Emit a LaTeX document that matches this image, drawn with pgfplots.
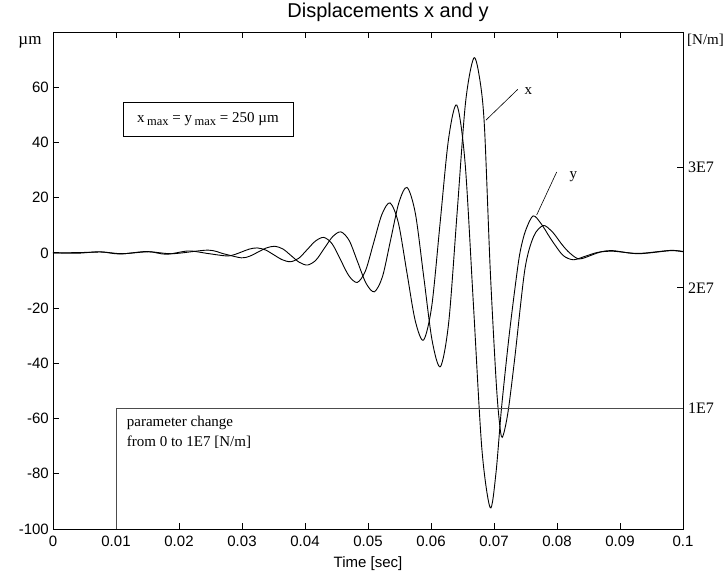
\documentclass[border=0pt]{standalone}
\usepackage{fontspec}
\setmainfont{Liberation Serif}
\setsansfont{Liberation Sans}
\usepackage{pgfplots}
\pgfplotsset{compat=1.18}
\usetikzlibrary{calc}

\newcommand\sanslab{\fontsize{15}{16}\selectfont\sffamily}
\newcommand\serlab{\fontsize{15}{20}\selectfont\rmfamily}
\newcommand\sub[1]{\hspace{2.5pt}\raisebox{-0.45ex}{\fontsize{12.5}{12.5}\selectfont #1}}

\pgfplotsset{
  frame/.style={
    scale only axis, width=630pt, height=497pt,
    xmin=0, xmax=0.1,
    tick align=inside, major tick length=6pt,
    axis line style={line width=0.8pt},
    every tick/.style={black, line width=0.8pt},
  },
  curve/.style={black, line width=0.9pt, smooth, mark=none},
}

\begin{document}
\begin{tikzpicture}
\begin{axis}[frame, name=main,
  ymin=-100, ymax=80,
  xtick={0,0.01,0.02,0.03,0.04,0.05,0.06,0.07,0.08,0.09,0.1},
  xticklabels={0,0.01,0.02,0.03,0.04,0.05,0.06,0.07,0.08,0.09,0.1},
  ytick={-100,-80,-60,-40,-20,0,20,40,60},
  yticklabels={-100,-80,-60,-40,-20,0,20,40,60},
  ytick pos=left,
  tick label style={font=\sanslab, inner sep=0pt},
  yticklabel style={anchor=east, xshift=-4pt},
  xticklabel style={anchor=north, yshift=-7pt},
  xlabel={Time [sec]},
  xlabel style={font=\sanslab, inner sep=0pt, at={(axis description cs:0.5,0)}, anchor=north, yshift=-27pt},
  title={Displacements x and y},
  title style={font=\fontsize{20}{22}\selectfont\sffamily, inner sep=0pt,
               at={(axis description cs:0.5,1)}, anchor=south, yshift=4pt, xshift=20pt},
]
  % y (leading phase)
  \addplot[curve] coordinates {
    (0,0) (0.0040,-0.1) (0.0075,0.4) (0.0106,-0.4) (0.0149,0.5) (0.0180,-0.5)
    (0.0215,0.7) (0.0245,-0.2)
    (0.0275,-1.1) (0.028725,-0.68) (0.02995,0.35) (0.031175,1.38) (0.0324,1.8)
    (0.033725,1.07) (0.03505,-0.7) (0.036375,-2.47) (0.0377,-3.2)
    (0.039025,-1.92) (0.04035,1.2) (0.041675,4.32) (0.0430,5.6)
    (0.044325,3.22) (0.04565,-2.55) (0.046975,-8.32) (0.0483,-10.7)
    (0.0496,-6.50) (0.0509,3.7) (0.0522,13.90) (0.0535,18.1)
    (0.054825,10.84) (0.05615,-6.75) (0.057475,-24.34) (0.0588,-31.6)
    (0.060125,-19.18) (0.06145,10.95) (0.062775,41.08) (0.0641,53.5)
    (0.065425,32.21) (0.06675,-19.4) (0.068075,-71.01) (0.0694,-92.3)
    (0.0703,-80) (0.0712,-56) (0.0724,-30) (0.0736,-8) (0.0742,1) (0.0750,8) (0.0762,13.4)
    (0.0775,10.5) (0.0787,6.2) (0.0797,2.8) (0.0810,-1.0) (0.0826,-2.5)
    (0.0845,-1.2) (0.0865,0.2) (0.0889,0.6) (0.0929,-0.2) (0.0980,0.9) (0.1,0.5)
  };
  % x (lagging phase)
  \addplot[curve] coordinates {
    (0,0) (0.0040,0.1) (0.0078,0.3) (0.0110,-0.3) (0.0152,0.4) (0.0190,-0.3)
    (0.0246,1.0) (0.0272,-0.4)
    (0.0299,-1.8) (0.031225,-1.19) (0.03255,0.3) (0.033875,1.79) (0.0352,2.4)
    (0.0365,1.41) (0.0378,-1.0) (0.0391,-3.41) (0.0404,-4.4)
    (0.041725,-2.65) (0.04305,1.6) (0.044375,5.85) (0.0457,7.6)
    (0.047025,4.44) (0.04835,-3.25) (0.049675,-10.93) (0.0510,-14.1)
    (0.0523,-8.58) (0.0536,4.8) (0.0549,18.18) (0.0562,23.7)
    (0.057525,14.22) (0.05885,-8.75) (0.060175,-31.72) (0.0615,-41.2)
    (0.062825,-24.88) (0.06415,14.7) (0.065475,54.28) (0.0668,70.6)
    (0.0678,62) (0.0685,45) (0.0694,-6) (0.0703,-45) (0.0708,-60) (0.0713,-66.8)
    (0.0722,-58) (0.0733,-38) (0.0749,-6) (0.0763,6) (0.0778,9.9)
    (0.0790,8.2) (0.0797,6.4) (0.0808,3.0) (0.0820,0) (0.0835,-2.2)
    (0.0855,-0.8) (0.0870,0.4) (0.0889,0.8) (0.0929,-0.3) (0.0980,0.8) (0.1,0.4)
  };

  % amplitude box
  \node[draw, line width=0.6pt, minimum width=170pt, minimum height=34pt,
        inner sep=0pt, font=\serlab] at (axis cs:0.0246,48.4)
    {x\sub{max} = y\sub{max} = 250 µm};

  % curve labels
  \draw[line width=0.6pt] (axis cs:0.06873,48.1) -- (axis cs:0.07376,59.2);
  \node[font=\serlab] at (axis cs:0.07545,58.6) {x};
  \draw[line width=0.6pt] (axis cs:0.07677,13.7) -- (axis cs:0.07995,29.3);
  \node[font=\serlab] at (axis cs:0.0826,27.6) {y};

  % step annotation
  \node[anchor=west, align=left, inner sep=0pt, font=\serlab]
    at (axis cs:0.0117,-65.1) {parameter change\\from 0 to 1E7 [N/m]};
\end{axis}

\begin{axis}[frame,
  ymin=0, ymax=4.12e7,
  axis x line=none, axis y line*=right,
  tick align=inside,
  ytick={1e7,2e7,3e7}, yticklabels={1E7,2E7,3E7},
  scaled y ticks=false,
  yticklabel style={font=\fontsize{16}{18}\selectfont\rmfamily, inner sep=0pt, anchor=west, xshift=5pt},
]
  \addplot[black!70, line width=0.9pt, mark=none] coordinates {
    (0.01,0) (0.01,1e7) (0.1,1e7)
  };
\end{axis}

\node[font=\fontsize{17}{18}\selectfont, anchor=base] at ($(main.north west)+(-23pt,-13pt)$) {µm};
\node[font=\serlab, anchor=base] at ($(main.north east)+(22.5pt,-13pt)$) {[N/m]};

\pgfresetboundingbox
\path ($(main.south west)+(-53pt,-46pt)$) rectangle ($(main.north east)+(45pt,32pt)$);
\end{tikzpicture}
\end{document}
